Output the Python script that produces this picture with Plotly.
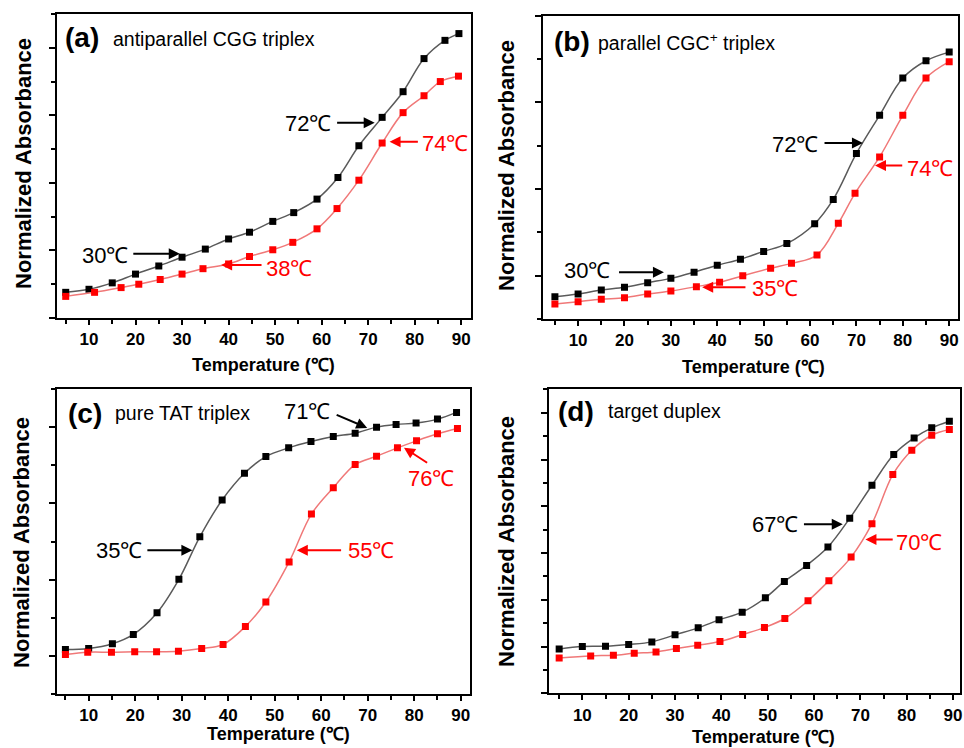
import plotly.graph_objects as go

# ---------------- data ----------------
# (a) antiparallel CGG triplex
T_a_black = [5, 10, 15, 20, 25, 30, 35, 40, 44.5, 49.5, 54, 59, 63.5, 68, 73, 77.5, 82, 86.5, 89.5]
A_a_black = [0.38, 0.425, 0.52, 0.65, 0.77, 0.90, 1.02, 1.17, 1.27, 1.43, 1.56, 1.76, 2.08, 2.55, 2.97, 3.35, 3.84, 4.11, 4.21]
T_a_red = [5, 11.2, 16.9, 20.7, 25.3, 30, 34.5, 40, 44.5, 49.5, 53.8, 59, 63.3, 68, 73, 77.5, 82, 85.5, 89.4]
A_a_red = [0.32, 0.38, 0.45, 0.50, 0.57, 0.65, 0.73, 0.80, 0.91, 1.01, 1.12, 1.32, 1.62, 2.04, 2.59, 3.04, 3.29, 3.50, 3.58]

# (b) parallel CGC+ triplex
T_b_black = [5, 10, 15, 20, 25, 30, 35, 40, 45, 50, 55, 61, 65, 70, 75, 80, 85, 90]
A_b_black = [0.757, 0.788, 0.834, 0.866, 0.919, 0.969, 1.04, 1.12, 1.19, 1.28, 1.37, 1.60, 1.88, 2.41, 2.85, 3.28, 3.48, 3.58]
T_b_red = [5, 10, 15, 20, 25, 30, 35.5, 40.5, 45.5, 51.5, 56, 61.5, 66.1, 69.7, 75, 80, 85, 90]
A_b_red = [0.673, 0.700, 0.727, 0.746, 0.788, 0.823, 0.873, 0.923, 1.0, 1.085, 1.142, 1.238, 1.604, 1.95, 2.37, 2.85, 3.28, 3.47]

# (c) pure TAT triplex
T_c_black = [5, 10, 15.1, 19.6, 24.7, 29.4, 33.9, 38.7, 43.5, 48.1, 53, 57.8, 62.6, 67.3, 71.9, 76.1, 80.4, 85, 89.1]
A_c_black = [0.083, 0.096, 0.158, 0.281, 0.566, 1.004, 1.561, 2.044, 2.395, 2.614, 2.728, 2.811, 2.877, 2.921, 3.0, 3.035, 3.053, 3.105, 3.193]
T_c_red = [5, 9.8, 14.9, 19.9, 24.6, 29.3, 34.3, 38.9, 43.7, 48.1, 53.1, 57.9, 62.6, 67.3, 71.9, 76.4, 80.5, 85, 89.3]
A_c_red = [0.018, 0.048, 0.048, 0.053, 0.053, 0.061, 0.096, 0.149, 0.386, 0.706, 1.232, 1.86, 2.206, 2.509, 2.618, 2.728, 2.82, 2.912, 2.982]

# (d) target duplex
T_d_black = [5, 10, 15, 20, 25, 30, 35, 39.5, 44.5, 49.5, 53.6, 58.4, 63, 67.7, 72.5, 77.2, 81.6, 85.4, 89.2]
A_d_black = [0.95, 1.0, 1.007, 1.043, 1.1, 1.25, 1.4, 1.571, 1.736, 2.043, 2.393, 2.736, 3.129, 3.743, 4.45, 5.107, 5.464, 5.679, 5.821]
T_d_red = [5, 11.8, 16.7, 21.2, 25.9, 30.3, 34.9, 39.7, 44.6, 49.3, 53.7, 58.7, 63.2, 68, 72.5, 77, 81.1, 85.4, 89.2]
A_d_red = [0.757, 0.8, 0.814, 0.857, 0.886, 0.957, 1.029, 1.107, 1.257, 1.407, 1.6, 1.979, 2.407, 2.914, 3.629, 4.679, 5.2, 5.521, 5.643]

X_TICKS = [10, 20, 30, 40, 50, 60, 70, 80, 90]
PANEL_LABELS = ["(a)", "(b)", "(c)", "(d)"]
PANEL_TITLES = ["antiparallel CGG triplex", "parallel CGC<sup>+</sup> triplex",
                "pure TAT triplex", "target duplex"]
X_TITLE = "Temperature (℃)"
Y_TITLE = "Normalized Absorbance"

# Tm annotations: (text, color, text_x, text_y, anchor, tail_x, tail_y, head_x, head_y)
ANN_A = [("72℃", "black", 62.4, 2.88, "right", 63.0, 2.89, 71.4, 2.89),
         ("74℃", "red", 81.2, 2.59, "left", 81.0, 2.61, 74.6, 2.61),
         ("30℃", "black", 18.8, 0.93, "right", 19.2, 0.95, 29.5, 0.95),
         ("38℃", "red", 47.6, 0.74, "left", 47.4, 0.785, 38.4, 0.785)]
ANN_B = [("72℃", "black", 62.2, 2.51, "right", 62.8, 2.53, 71.4, 2.53),
         ("74℃", "red", 80.4, 2.24, "left", 80.2, 2.27, 74.0, 2.27),
         ("30℃", "black", 17.4, 1.057, "right", 18.5, 1.04, 28.5, 1.04),
         ("35℃", "red", 47.1, 0.854, "left", 46.4, 0.866, 36.75, 0.866)]
ANN_C = [("71℃", "black", 62.35, 3.21, "right", 63.0, 3.17, 69.9, 2.99),
         ("76℃", "red", 83.7, 2.33, "center", 83.1, 2.52, 77.8, 2.73),
         ("35℃", "black", 22.0, 1.386, "right", 22.3, 1.386, 32.3, 1.386),
         ("55℃", "red", 65.3, 1.386, "left", 64.6, 1.386, 54.75, 1.386)]
ANN_D = [("67℃", "black", 56.9, 3.614, "right", 57.5, 3.614, 66.2, 3.614),
         ("70℃", "red", 77.3, 3.236, "left", 77.3, 3.29, 71.1, 3.29)]

# ---------------- layout geometry (pixels) ----------------
W, H = 964, 748
FONT = "Liberation Sans, Arial, sans-serif"
BLACK_LINE = "#5a5a5a"
RED_LINE = "#f07878"

panels = [
    dict(px=(57, 472), py=(14, 318), xr=[3.1, 92.1], yr=[0, 4.5], ydt=1, ymin=0.5,
         data=(T_a_black, A_a_black, T_a_red, A_a_red), ann=ANN_A,
         ytitle=(23, 163), xtitle=(264, 365), lab=(63, 38), tit=(111, 39)),
    dict(px=(543.7, 960), py=(15.7, 319), xr=[2.34, 91.9], yr=[0.5, 4.0], ydt=1, ymin=0.5,
         data=(T_b_black, A_b_black, T_b_red, A_b_red), ann=ANN_B,
         ytitle=(507, 165), xtitle=(755, 367), lab=(553, 41), tit=(597, 42)),
    dict(px=(56.7, 471), py=(389, 694), xr=[3.1, 92.0], yr=[-0.5, 3.5], ydt=1, ymin=0.5,
         data=(T_c_black, A_c_black, T_c_red, A_c_red), ann=ANN_C,
         ytitle=(21, 542), xtitle=(279, 734), lab=(66, 413), tit=(113, 413)),
    dict(px=(550.3, 962), py=(389, 693.3), xr=[2.84, 91.5], yr=[0, 6.51], ydt=1, ymin=0.5,
         data=(T_d_black, A_d_black, T_d_red, A_d_red), ann=ANN_D,
         ytitle=(507, 541), xtitle=(765, 737), lab=(557, 411), tit=(607, 411)),
]

fig = go.Figure()
annotations = []
layout_axes = {}

for i, p in enumerate(panels):
    n = i + 1
    xa = "x" if n == 1 else f"x{n}"
    ya = "y" if n == 1 else f"y{n}"
    xkey = "xaxis" if n == 1 else f"xaxis{n}"
    ykey = "yaxis" if n == 1 else f"yaxis{n}"
    tb, ab, tr, ar = p["data"]

    for tx, ay, lc, mc in ((tb, ab, BLACK_LINE, "black"), (tr, ar, RED_LINE, "red")):
        fig.add_trace(go.Scatter(x=tx, y=ay, mode="lines", xaxis=xa, yaxis=ya,
                                 line=dict(color=lc, width=1.5, shape="spline", smoothing=1.0),
                                 showlegend=False, hoverinfo="skip"))
        fig.add_trace(go.Scatter(x=tx, y=ay, mode="markers", xaxis=xa, yaxis=ya,
                                 marker=dict(symbol="square", size=7, color=mc),
                                 showlegend=False))

    layout_axes[xkey] = dict(
        domain=[p["px"][0] / W, p["px"][1] / W], anchor=ya, range=p["xr"],
        tickvals=X_TICKS, ticks="outside", ticklen=5, tickwidth=1.5, tickcolor="black",
        showline=True, linewidth=2, linecolor="black", mirror=True, showgrid=False,
        zeroline=False, ticklabeloverflow="allow",
        tickfont=dict(family=FONT, size=17, color="black", weight="bold"),
        minor=dict(dtick=5, tick0=0, ticks="outside", ticklen=4, tickwidth=1.5, tickcolor="black"),
    )
    layout_axes[ykey] = dict(
        domain=[1 - p["py"][1] / H, 1 - p["py"][0] / H], anchor=xa, range=p["yr"],
        tick0=0, dtick=p["ydt"], ticks="outside", ticklen=6, tickwidth=1.5, tickcolor="black",
        showticklabels=False, showline=True, linewidth=2, linecolor="black", mirror=True,
        showgrid=False, zeroline=False,
        minor=dict(dtick=p["ymin"], tick0=0, ticks="outside", ticklen=4, tickwidth=1.5, tickcolor="black"),
    )

    # axis titles
    annotations.append(dict(text=Y_TITLE, xref="paper", yref="paper",
                            x=p["ytitle"][0] / W, y=1 - p["ytitle"][1] / H, textangle=-90,
                            showarrow=False, xanchor="center", yanchor="middle",
                            font=dict(family=FONT, size=22, color="black", weight="bold")))
    annotations.append(dict(text=X_TITLE, xref="paper", yref="paper",
                            x=p["xtitle"][0] / W, y=1 - p["xtitle"][1] / H,
                            showarrow=False, xanchor="center", yanchor="middle",
                            font=dict(family=FONT, size=18, color="black", weight="bold")))
    # panel label and title
    annotations.append(dict(text=PANEL_LABELS[i], xref="paper", yref="paper",
                            x=p["lab"][0] / W, y=1 - p["lab"][1] / H,
                            showarrow=False, xanchor="left", yanchor="middle",
                            font=dict(family=FONT, size=28, color="black", weight="bold")))
    annotations.append(dict(text=PANEL_TITLES[i], xref="paper", yref="paper",
                            x=p["tit"][0] / W, y=1 - p["tit"][1] / H,
                            showarrow=False, xanchor="left", yanchor="middle",
                            font=dict(family=FONT, size=19.5, color="black")))
    # Tm arrows + labels
    for (txt, col, tx_, ty_, anc, axx, ayy, hx, hy) in p["ann"]:
        annotations.append(dict(text="", xref=xa, yref=ya, axref=xa, ayref=ya,
                                x=hx, y=hy, ax=axx, ay=ayy, showarrow=True,
                                arrowhead=2, arrowsize=1.1, arrowwidth=2, arrowcolor=col,
                                standoff=0, startstandoff=0))
        annotations.append(dict(text=txt, xref=xa, yref=ya, x=tx_, y=ty_, showarrow=False,
                                xanchor=anc, yanchor="middle",
                                font=dict(family=FONT, size=22, color=col)))

fig.update_layout(
    width=W, height=H, margin=dict(l=0, r=0, t=0, b=0),
    paper_bgcolor="white", plot_bgcolor="white",
    annotations=annotations, showlegend=False, **layout_axes,
)

fig.write_html(
    "out.html",
    config={"displayModeBar": False},
    post_script="document.body.style.margin='0';document.body.style.overflow='hidden';"
                "document.documentElement.style.overflow='hidden';",
)
